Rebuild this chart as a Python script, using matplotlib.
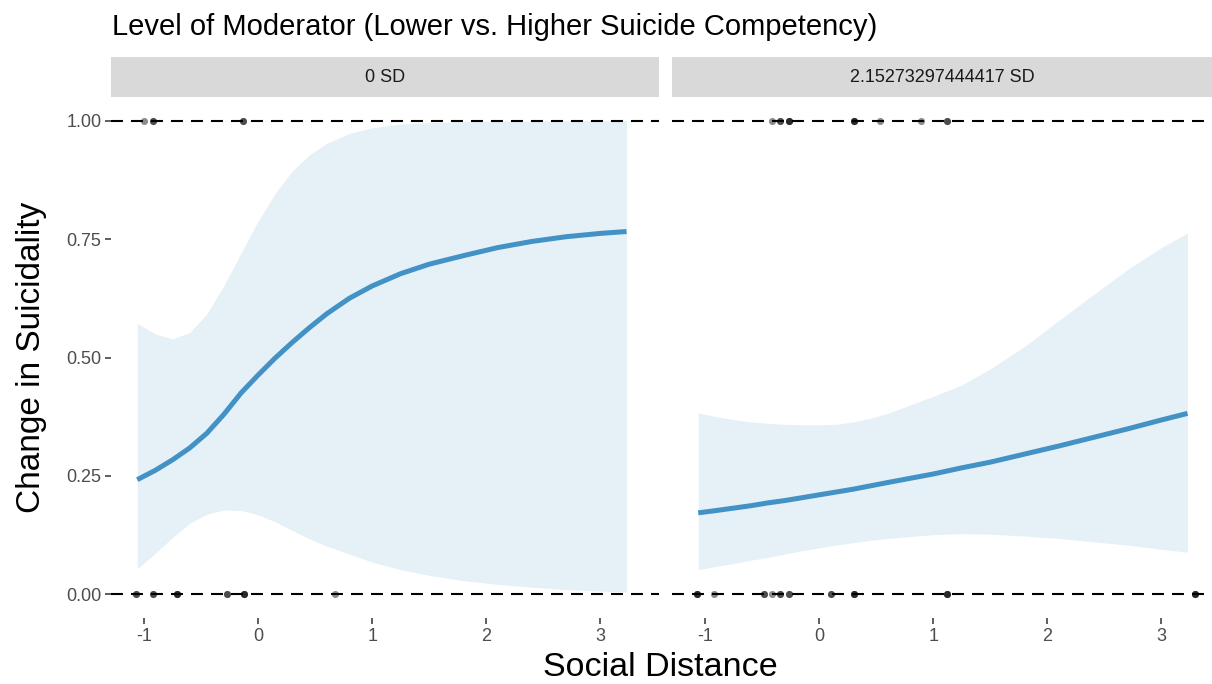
import numpy as np
import matplotlib
matplotlib.use("Agg")
import matplotlib.pyplot as plt

plt.rcParams['font.family'] = ['Liberation Sans', 'DejaVu Sans']
plt.rcParams['lines.scale_dashes'] = False

# facet labels
panels = ['0 SD', '2.15273297444417 SD']

# predicted probability + CI, read at common x positions
sd_x = [-1.06, -0.9, -0.75, -0.6, -0.45, -0.3, -0.15, 0.0, 0.15, 0.3, 0.45,
        0.6, 0.8, 1.0, 1.25, 1.5, 1.8, 2.1, 2.4, 2.7, 3.0, 3.23]

fit_low = [0.242, 0.262, 0.284, 0.309, 0.340, 0.380, 0.425, 0.463, 0.499, 0.532, 0.563,
           0.592, 0.625, 0.651, 0.677, 0.697, 0.715, 0.732, 0.745, 0.755, 0.762, 0.766]
upr_low = [0.572, 0.550, 0.539, 0.553, 0.592, 0.652, 0.720, 0.788, 0.847, 0.894, 0.928,
           0.952, 0.973, 0.985, 0.993, 0.996, 0.998, 0.999, 0.999, 1.0, 1.0, 1.0]
lwr_low = [0.054, 0.087, 0.120, 0.150, 0.169, 0.178, 0.177, 0.168, 0.153, 0.135, 0.117,
           0.102, 0.085, 0.068, 0.052, 0.040, 0.029, 0.021, 0.015, 0.010, 0.007, 0.005]

fit_high = [0.172, 0.177, 0.182, 0.187, 0.193, 0.198, 0.204, 0.210, 0.216, 0.222, 0.229,
            0.236, 0.245, 0.254, 0.267, 0.279, 0.296, 0.313, 0.331, 0.349, 0.368, 0.382]
upr_high = [0.383, 0.375, 0.369, 0.364, 0.361, 0.359, 0.358, 0.358, 0.359, 0.364, 0.372,
            0.382, 0.400, 0.418, 0.442, 0.476, 0.523, 0.578, 0.632, 0.685, 0.732, 0.763]
lwr_high = [0.052, 0.059, 0.065, 0.072, 0.078, 0.085, 0.092, 0.098, 0.104, 0.109, 0.114,
            0.118, 0.122, 0.126, 0.128, 0.127, 0.123, 0.118, 0.111, 0.104, 0.095, 0.089]

# raw observations (x, number of overlapping cases) at outcome 0 and 1
obs0_low_x = [-1.07, -0.925, -0.71, -0.27, -0.126, 0.67]
obs0_low_n = [2, 2, 3, 2, 3, 1]
obs1_low_x = [-1.00, -0.925, -0.13]
obs1_low_n = [1, 2, 2]

obs0_high_x = [-1.07, -0.925, -0.48, -0.41, -0.34, -0.26, 0.10, 0.31, 1.12, 3.30]
obs0_high_n = [3, 1, 2, 1, 2, 2, 2, 3, 3, 3]
obs1_high_x = [-0.41, -0.34, -0.26, 0.31, 0.535, 0.895, 1.12]
obs1_high_n = [1, 2, 3, 3, 1, 1, 2]

xticks = [-1, 0, 1, 2, 3]
yticks = [0.0, 0.25, 0.5, 0.75, 1.0]
ytick_labels = ['0.00', '0.25', '0.50', '0.75', '1.00']

blue = '#4292c6'
W, H = 1212, 684
fig = plt.figure(figsize=(W / 100, H / 100), dpi=100)

series = [
    (fit_low, lwr_low, upr_low, obs0_low_x, obs0_low_n, obs1_low_x, obs1_low_n),
    (fit_high, lwr_high, upr_high, obs0_high_x, obs0_high_n, obs1_high_x, obs1_high_n),
]
lefts = [111, 672]
pw, top, bot = 548, 97, 618

for i, (fit, lwr, upr, x0, n0, x1, n1) in enumerate(series):
    ax = fig.add_axes([lefts[i] / W, 1 - bot / H, pw / W, (bot - top) / H])
    ax.fill_between(sd_x, lwr, upr, color=blue, alpha=0.13, lw=0, zorder=1)
    ax.plot(sd_x, fit, color=blue, lw=3.6, solid_capstyle='butt', zorder=2)
    for yv in (0, 1):
        ax.axhline(yv, color='black', lw=1.5, dashes=(8.6, 5.8), zorder=3)
    ax.scatter(np.repeat(x0, n0), np.zeros(sum(n0)), s=26, color='black',
               alpha=0.45, lw=0, zorder=4)
    ax.scatter(np.repeat(x1, n1), np.ones(sum(n1)), s=26, color='black',
               alpha=0.45, lw=0, zorder=4)
    ax.set_xlim(-1.29, 3.515)
    ax.set_ylim(-0.05, 1.05)
    ax.set_xticks(xticks)
    ax.set_xticklabels([str(t) for t in xticks])
    for s in ax.spines.values():
        s.set_visible(False)
    ax.tick_params(length=4, width=1.1, color='#333333', labelcolor='#4d4d4d',
                   labelsize=13, pad=3)
    if i == 0:
        ax.set_yticks(yticks)
        ax.set_yticklabels(ytick_labels)
    else:
        ax.set_yticks([])

    # facet strip
    sax = fig.add_axes([lefts[i] / W, 1 - top / H, pw / W, 40 / H])
    sax.set_facecolor('#d9d9d9')
    sax.set_xticks([])
    sax.set_yticks([])
    for s in sax.spines.values():
        s.set_visible(False)
    cx = (lefts[i] + (min(lefts[i] + pw, W) - lefts[i]) / 2) / W
    fig.text(cx, 1 - 77 / H, panels[i], ha='center', va='center',
             fontsize=13, color='#1a1a1a')

fig.text(112 / W, 1 - 27 / H, 'Level of Moderator (Lower vs. Higher Suicide Competency)',
         ha='left', va='center', fontsize=21, color='black')
fig.text(660 / W, 1 - 668 / H, 'Social Distance', ha='center', va='center',
         fontsize=24.5, color='black')
fig.text(32 / W, 1 - 357 / H, 'Change in Suicidality', ha='center', va='center',
         rotation=90, fontsize=24, color='black')

fig.savefig('out.png', dpi=100)
